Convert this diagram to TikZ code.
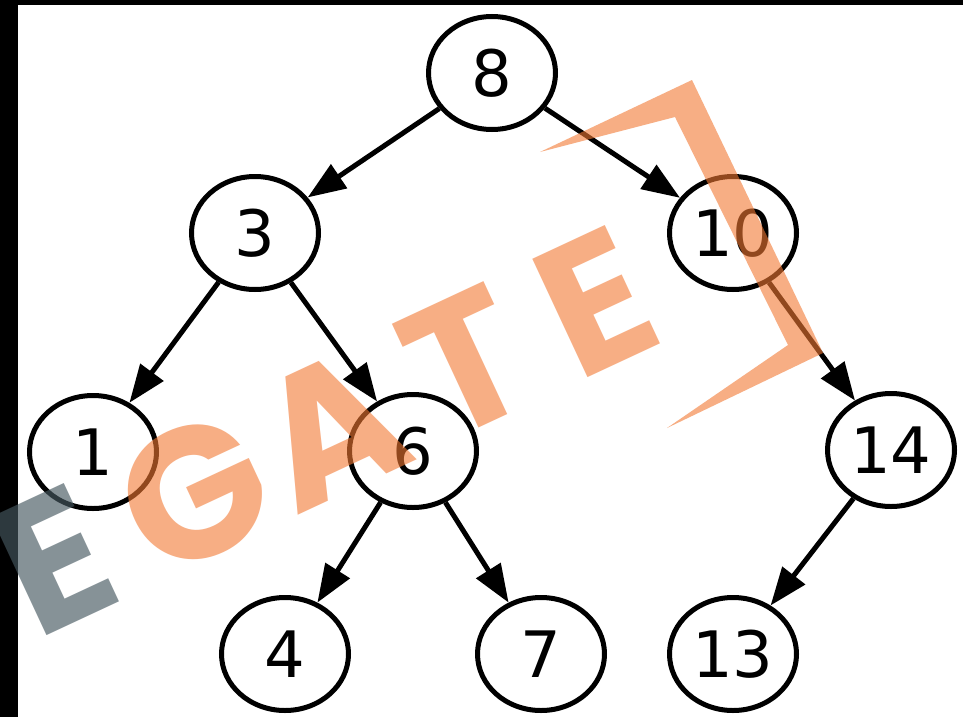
\documentclass[tikz,border=0pt]{standalone}
\usepackage{fontspec}
\usetikzlibrary{shapes.geometric,arrows.meta}
\newfontfamily\dejavu{DejaVu Sans}
\newfontfamily\wmfont{Poppins}
\definecolor{wmorange}{RGB}{242,120,50}
\definecolor{wmgray}{RGB}{70,88,96}
\tikzset{
  nd/.style={ellipse, draw, line width=5pt, minimum width=127pt, minimum height=113pt,
    inner sep=0pt, font=\dejavu\fontsize{64}{64}\selectfont},
  edge/.style={line width=5pt, -{Triangle[length=38pt,width=28pt]}},
  wmo/.style={text=wmorange, text opacity=0.6, inner sep=0pt,
    font=\wmfont\bfseries\fontsize{186}{186}\selectfont, rotate=25},
  wmg/.style={wmo, text=wmgray, text opacity=0.65}
}
\begin{document}
\begin{tikzpicture}[x=1pt,y=-1pt]
\useasboundingbox (0,0) rectangle (963,717);
\fill[white] (0,0) rectangle (963,717);
\fill[black] (0,0) rectangle (18,717);
\fill[black] (0,0) rectangle (963,5);
% tree
\node[nd] (n8) at (492,73) {8};
\node[nd] (n3) at (255,233) {3};
\node[nd] (n10) at (733,233) {10};
\node[nd] (n1) at (93,452) {1};
\node[nd] (n6) at (413,451) {6};
\node[nd] (n14) at (891,450) {14};
\node[nd] (n4) at (285,654) {4};
\node[nd] (n7) at (541,654) {7};
\node[nd] (n13) at (733,654) {13};
\draw[edge] (n8) -- (n3);
\draw[edge] (n8) -- (n10);
\draw[edge] (n3) -- (n1);
\draw[edge] (n3) -- (n6);
\draw[edge] (n10) -- (n14);
\draw[edge] (n6) -- (n4);
\draw[edge] (n6) -- (n7);
\draw[edge] (n14) -- (n13);
% watermark
\node[wmg] (we) at (55,560) {E};
\node[wmo] (wg) at (194,493) {G};
\node[wmo] (wa) at (330,428) {A};
\node[wmo] (wt) at (466,362) {T};
\node[wmo] (we2) at (595,302) {E};
\fill[wmorange, opacity=0.6] (540,152) -- (692,80) -- (823,353) -- (667,428) -- (788,345) -- (675,117) -- cycle;
\end{tikzpicture}
\end{document}
